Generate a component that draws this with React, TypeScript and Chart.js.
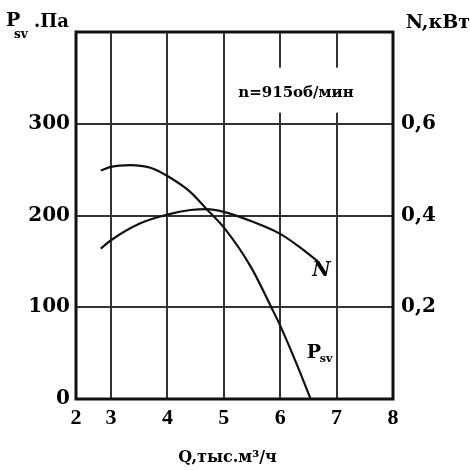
import React, { useEffect, useRef } from "react";
import { Chart, registerables } from "chart.js";

Chart.register(...registerables);

// Q, thousand m3/h
const psvQ = [2.82, 3.0, 3.34, 3.7, 4.0, 4.4, 4.68, 5.0, 5.48, 5.85, 6.0, 6.3, 6.54];
// Pressure Psv, Pa
const psvValues = [249, 253, 255, 252, 243, 226, 208, 187, 144, 99, 80, 37, 0];
const nQ = [2.82, 3.0, 3.52, 4.0, 4.41, 4.7, 5.0, 5.48, 6.0, 6.38, 6.67];
// Power N, kW
const nValues = [0.328, 0.346, 0.383, 0.402, 0.412, 0.414, 0.408, 0.388, 0.36, 0.328, 0.3];

const xTicks = [3, 4, 5, 6, 7, 8];
const xStartLabel = "2";
const xMin = 2.38;
const xMax = 8;
const leftTicks = [0, 100, 200, 300];
const rightTicks = [0.2, 0.4, 0.6];

const SERIF = "'DejaVu Serif', 'Liberation Serif', serif";

const textPlugin = {
  id: "textPlugin",
  beforeDatasetsDraw(chart: any) {
    const { ctx, scales } = chart;
    const x = scales.x;
    const y = scales.y;
    const cx = x.getPixelForValue(6.28);
    const cy = y.getPixelForValue(335);
    ctx.save();
    ctx.fillStyle = "#fff";
    ctx.fillRect(cx - 66, cy - 24, 132, 45);
    ctx.restore();
  },
  afterDraw(chart: any) {
    const { ctx, chartArea, scales } = chart;
    const x = scales.x;
    const y = scales.y;
    ctx.save();
    // frame
    ctx.strokeStyle = "#111";
    ctx.lineWidth = 3;
    ctx.strokeRect(chartArea.left, chartArea.top, chartArea.right - chartArea.left, chartArea.bottom - chartArea.top);

    ctx.fillStyle = "#000";
    ctx.textBaseline = "alphabetic";
    // left title Psv,Па
    ctx.textAlign = "left";
    ctx.font = `bold 19px ${SERIF}`;
    ctx.fillText("P", 6, 26);
    ctx.font = `bold 12px ${SERIF}`;
    ctx.fillText("sv", 14, 38);
    ctx.font = `bold 18px ${SERIF}`;
    ctx.fillText(".Па", 34, 27);
    // right title
    ctx.font = `bold 19px ${SERIF}`;
    ctx.textAlign = "right";
    ctx.fillText("N,кВт", 470, 28);
    // annotation
    ctx.textAlign = "center";
    ctx.font = `bold 15px ${SERIF}`;
    ctx.fillText("n=915об/мин", x.getPixelForValue(6.28), y.getPixelForValue(335) + 5);
    // series labels
    ctx.textAlign = "left";
    ctx.font = `italic bold 20px ${SERIF}`;
    ctx.fillText("N", x.getPixelForValue(6.57), y.getPixelForValue(134));
    ctx.font = `bold 19px ${SERIF}`;
    const px = x.getPixelForValue(6.47);
    const py = y.getPixelForValue(45);
    ctx.fillText("P", px, py);
    ctx.font = `bold 11px ${SERIF}`;
    ctx.fillText("sv", px + 13, py + 4);
    // x title
    ctx.textAlign = "center";
    ctx.font = `bold 16px ${SERIF}`;
    ctx.fillText("Q,тыс.м³/ч", (chartArea.left + chartArea.right) / 2 - 7, 462);
    ctx.restore();
  },
};

export default function App() {
  const ref = useRef<HTMLCanvasElement | null>(null);
  useEffect(() => {
    if (!ref.current) return;
    const chart = new Chart(ref.current, {
      type: "line",
      data: {
        datasets: [
          {
            label: "Psv",
            data: psvQ.map((q, i) => ({ x: q, y: psvValues[i] })),
            yAxisID: "y",
            borderColor: "#111",
            borderWidth: 2.2,
            pointRadius: 0,
            cubicInterpolationMode: "monotone",
            fill: false,
          },
          {
            label: "N",
            data: nQ.map((q, i) => ({ x: q, y: nValues[i] })),
            yAxisID: "y1",
            borderColor: "#111",
            borderWidth: 2.2,
            pointRadius: 0,
            cubicInterpolationMode: "monotone",
            fill: false,
          },
        ],
      },
      options: {
        animation: false,
        responsive: false,
        layout: { padding: { top: 32, left: 0, right: 0, bottom: 0 } },
        plugins: { legend: { display: false }, tooltip: { enabled: false } },
        scales: {
          x: {
            type: "linear",
            min: xMin,
            max: xMax,
            afterFit: (s: any) => {
              s.height = 71;
            },
            afterBuildTicks: (s: any) => {
              s.ticks = [xMin, ...xTicks].map((v) => ({ value: v }));
            },
            ticks: {
              autoSkip: false,
              maxRotation: 0,
              padding: 6,
              color: "#000",
              font: { family: "'Liberation Serif', serif", weight: "bold", size: 22 },
              callback: (v: any) => (Number(v) < 2.5 ? xStartLabel : String(v)),
            },
            grid: { color: "#333", lineWidth: 2, drawTicks: false },
            border: { display: false },
          },
          y: {
            position: "left",
            min: 0,
            max: 400,
            afterFit: (s: any) => {
              s.width = 76;
            },
            afterBuildTicks: (s: any) => {
              s.ticks = [...leftTicks, 400].map((v) => ({ value: v }));
            },
            ticks: {
              padding: 6,
              color: "#000",
              font: { family: SERIF, weight: "bold", size: 20 },
              callback: (v: any) => (leftTicks.includes(Number(v)) ? String(v) : ""),
            },
            grid: { color: "#333", lineWidth: 2, drawTicks: false },
            border: { display: false },
          },
          y1: {
            position: "right",
            min: 0,
            max: 0.8,
            afterFit: (s: any) => {
              s.width = 77;
            },
            afterBuildTicks: (s: any) => {
              s.ticks = rightTicks.map((v) => ({ value: v }));
            },
            ticks: {
              padding: 8,
              color: "#000",
              font: { family: SERIF, weight: "bold", size: 20 },
              callback: (v: any) => (Math.round(Number(v) * 10) / 10).toFixed(1).replace(".", ","),
            },
            grid: { display: false, drawTicks: false },
            border: { display: false },
          },
        },
      },
      plugins: [textPlugin],
    } as any);
    return () => chart.destroy();
  }, []);
  return (
    <div style={{ position: "fixed", left: 0, top: 0, width: 470, height: 470, background: "#fff" }}>
      <canvas ref={ref} width={470} height={470} style={{ width: 470, height: 470 }} />
    </div>
  );
}
